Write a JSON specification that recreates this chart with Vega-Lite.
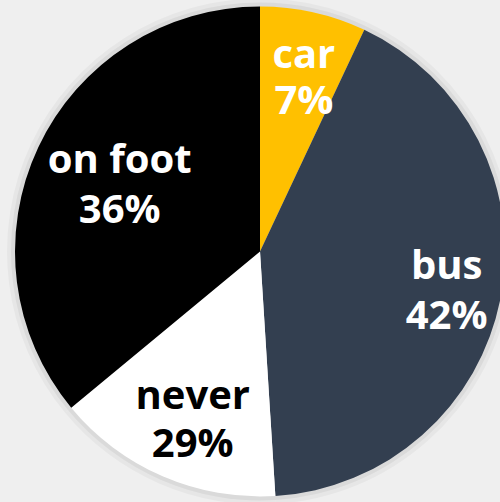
{
  "$schema": "https://vega.github.io/schema/vega-lite/v6.json",
  "width": 500,
  "height": 502,
  "autosize": {"type": "fit", "contains": "padding"},
  "padding": {"left": 20, "top": 1, "right": 0, "bottom": 0},
  "background": "#efefef",
  "view": {"stroke": null},
  "data": {
    "values": [
      {"mode": "car", "value": 7, "pct": "7%", "idx": 1},
      {"mode": "bus", "value": 42, "pct": "42%", "idx": 2},
      {"mode": "never", "value": 15, "pct": "29%", "idx": 3},
      {"mode": "on foot", "value": 36, "pct": "36%", "idx": 4}
    ]
  },
  "transform": [
    {"stack": "value", "groupby": [], "sort": [{"field": "idx", "order": "ascending"}], "as": ["v0", "v1"]},
    {"calculate": "(datum.v0 + datum.v1) / 2", "as": "mid"},
    {"calculate": "[datum.mode, datum.pct]", "as": "lines"}
  ],
  "layer": [
    {
      "mark": {"type": "arc", "outerRadius": 253, "color": "#000000", "opacity": 0.035},
      "encoding": {
        "theta": {"field": "v0", "type": "quantitative", "scale": {"domain": [0, 100]}},
        "theta2": {"field": "v1"}
      }
    },
    {
      "mark": {"type": "arc", "outerRadius": 249, "color": "#000000", "opacity": 0.05},
      "encoding": {
        "theta": {"field": "v0", "type": "quantitative", "scale": {"domain": [0, 100]}},
        "theta2": {"field": "v1"}
      }
    },
    {
      "mark": {"type": "arc", "outerRadius": 245},
      "encoding": {
        "theta": {"field": "v0", "type": "quantitative", "scale": {"domain": [0, 100]}},
        "theta2": {"field": "v1"},
        "color": {
          "field": "mode",
          "type": "nominal",
          "scale": {"domain": ["car", "bus", "never", "on foot"], "range": ["#FFC000", "#333F50", "#FFFFFF", "#000000"]},
          "legend": null
        }
      }
    },
    {
      "transform": [{"filter": "datum.mode === 'car'"}],
      "mark": {"type": "text", "radius": 178, "dx": 5, "dy": -22, "lineHeight": 46, "font": "Open Sans", "fontWeight": "bold", "fontSize": 40},
      "encoding": {
        "theta": {"field": "mid", "type": "quantitative", "scale": {"domain": [0, 100]}},
        "text": {"field": "lines"},
        "color": {"value": "#FFFFFF"}
      }
    },
    {
      "transform": [{"filter": "datum.mode === 'bus'"}],
      "mark": {"type": "text", "radius": 190, "dy": -20, "lineHeight": 50, "font": "Open Sans", "fontWeight": "bold", "fontSize": 40},
      "encoding": {
        "theta": {"field": "mid", "type": "quantitative", "scale": {"domain": [0, 100]}},
        "text": {"field": "lines"},
        "color": {"value": "#FFFFFF"}
      }
    },
    {
      "transform": [{"filter": "datum.mode === 'never'"}],
      "mark": {"type": "text", "radius": 182, "dx": 5, "dy": -22, "lineHeight": 48, "font": "Open Sans", "fontWeight": "bold", "fontSize": 40},
      "encoding": {
        "theta": {"field": "mid", "type": "quantitative", "scale": {"domain": [0, 100]}},
        "text": {"field": "lines"},
        "color": {"value": "#000000"}
      }
    },
    {
      "transform": [{"filter": "datum.mode === 'on foot'"}],
      "mark": {"type": "text", "radius": 155, "dy": -25, "lineHeight": 50, "font": "Open Sans", "fontWeight": "bold", "fontSize": 40},
      "encoding": {
        "theta": {"field": "mid", "type": "quantitative", "scale": {"domain": [0, 100]}},
        "text": {"field": "lines"},
        "color": {"value": "#FFFFFF"}
      }
    }
  ]
}
